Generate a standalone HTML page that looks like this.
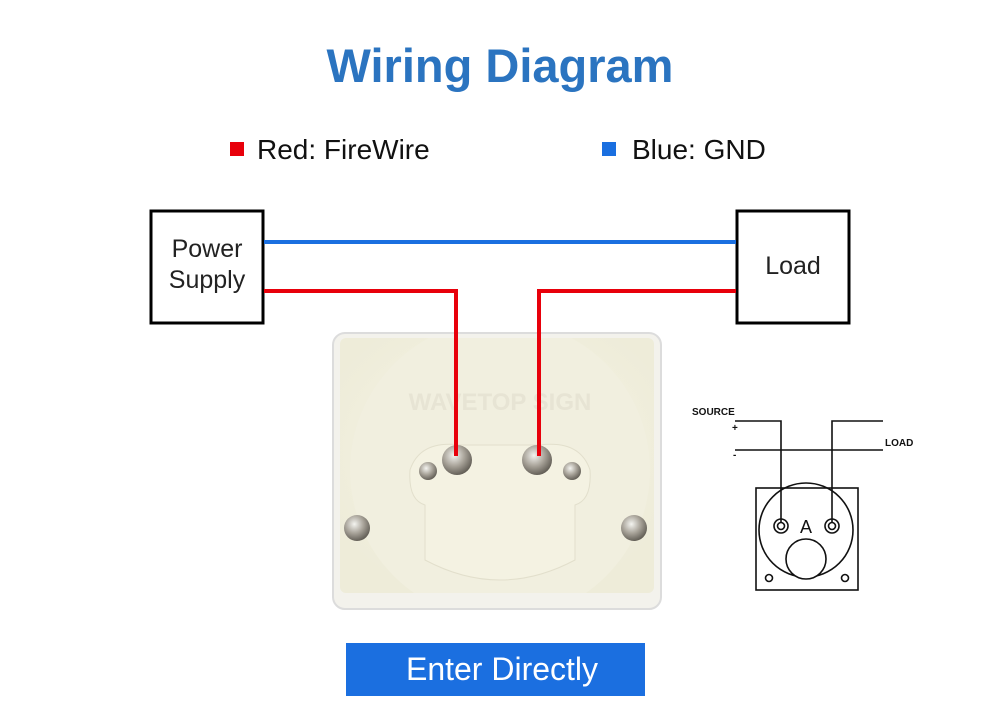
<!DOCTYPE html>
<html><head><meta charset="utf-8"><style>
html,body{margin:0;padding:0;background:#fff}
svg{display:block}
text{font-family:"Liberation Sans",sans-serif}
</style></head><body>
<svg width="1000" height="723" viewBox="0 0 1000 723" xmlns="http://www.w3.org/2000/svg">
<text x="500" y="82" text-anchor="middle" font-size="47" font-weight="bold" fill="#2b74c0">Wiring Diagram</text>
<rect x="230" y="142" width="14" height="14" fill="#e8000b"/>
<text x="257" y="159" font-size="28" fill="#111">Red: FireWire</text>
<rect x="602" y="142" width="14" height="14" fill="#1a6fe0"/>
<text x="632" y="159" font-size="28" fill="#111">Blue: GND</text>

<defs>
<radialGradient id="bg" cx="50%" cy="45%" r="60%"><stop offset="0" stop-color="#f6f4e6"/><stop offset="1" stop-color="#eeecd9"/></radialGradient>
<radialGradient id="nut" cx="40%" cy="35%" r="70%"><stop offset="0" stop-color="#f4f4f0"/><stop offset="0.5" stop-color="#a9a49a"/><stop offset="1" stop-color="#5a564e"/></radialGradient>
<clipPath id="mc"><rect x="340" y="338" width="314" height="255" rx="6"/></clipPath>
</defs>
<rect x="333" y="333" width="328" height="276" rx="12" fill="#f3f2ec" stroke="#dcdcdc" stroke-width="2"/>
<rect x="340" y="338" width="314" height="255" rx="6" fill="url(#bg)"/>
<g clip-path="url(#mc)">
<circle cx="500" cy="470" r="150" fill="#f1efdf"/>
</g>
<path d="M410 470 Q420 440 460 445 L540 445 Q580 440 590 470 Q592 500 575 505 L575 560 Q500 600 425 560 L425 505 Q408 500 410 470Z" fill="#f4f2e2" stroke="#e2dfcc"/>
<text x="500" y="410" text-anchor="middle" font-size="24" font-weight="bold" fill="#e7e4d4">WAVETOP SIGN</text>
<circle cx="428" cy="471" r="9" fill="url(#nut)"/><circle cx="572" cy="471" r="9" fill="url(#nut)"/>
<circle cx="457" cy="460" r="15" fill="url(#nut)"/><circle cx="537" cy="460" r="15" fill="url(#nut)"/>
<circle cx="357" cy="528" r="13" fill="url(#nut)"/><circle cx="634" cy="528" r="13" fill="url(#nut)"/>

<rect x="151" y="211" width="112" height="112" fill="#fff" stroke="#000" stroke-width="3"/>
<text x="207" y="257" text-anchor="middle" font-size="25" fill="#222">Power</text>
<text x="207" y="288" text-anchor="middle" font-size="25" fill="#222">Supply</text>
<rect x="737" y="211" width="112" height="112" fill="#fff" stroke="#000" stroke-width="3"/>
<text x="793" y="274" text-anchor="middle" font-size="25" fill="#222">Load</text>
<line x1="264" y1="242" x2="736" y2="242" stroke="#1a6fe0" stroke-width="4"/>
<polyline points="264,291 456,291 456,456" fill="none" stroke="#e8000b" stroke-width="4"/>
<polyline points="736,291 539,291 539,456" fill="none" stroke="#e8000b" stroke-width="4"/>

<g stroke="#111" stroke-width="1.6" fill="none">
<polyline points="735,421 781,421 781,522"/>
<polyline points="883,421 832,421 832,522"/>
<line x1="735" y1="450" x2="883" y2="450"/>
<rect x="756" y="488" width="102" height="102"/>
<circle cx="806" cy="530" r="47"/>
<circle cx="781" cy="526" r="7"/><circle cx="781" cy="526" r="3.5"/>
<circle cx="832" cy="526" r="7"/><circle cx="832" cy="526" r="3.5"/>
<circle cx="806" cy="559" r="20" fill="#fff"/>
<circle cx="769" cy="578" r="3.5"/><circle cx="845" cy="578" r="3.5"/>
</g>
<text x="806" y="533" text-anchor="middle" font-size="18" fill="#111">A</text>
<text x="692" y="415" font-size="10" font-weight="bold" fill="#111">SOURCE</text>
<text x="885" y="446" font-size="10" font-weight="bold" fill="#111">LOAD</text>
<text x="732" y="431" font-size="10" font-weight="bold" fill="#111">+</text>
<text x="733" y="458" font-size="10" font-weight="bold" fill="#111">-</text>

<rect x="346" y="643" width="299" height="53" fill="#1b6fe0"/>
<text x="502" y="680" text-anchor="middle" font-size="32" fill="#fff">Enter Directly</text>
</svg>
</body></html>
